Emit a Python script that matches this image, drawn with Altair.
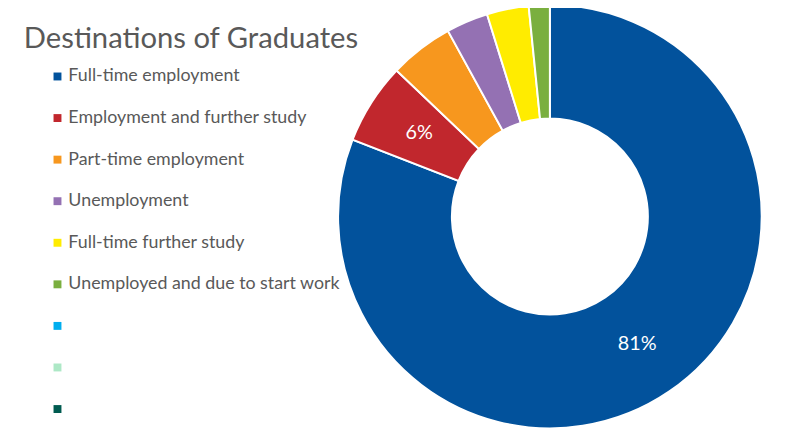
import altair as alt
import pandas as pd

categories = [
    "Full-time employment",
    "Employment and further study",
    "Part-time employment",
    "Unemployment",
    "Full-time further study",
    "Unemployed and due to start work",
]
extra_legend = [" ", "  ", "   "]
values = [81.0, 6.2, 4.9, 3.2, 3.2, 1.6]
slice_labels = ["81%", "6%", "", "", "", ""]
colors = ["#02529C", "#C1272D", "#F7971E", "#9471B3", "#FFEC00", "#7AAF3F",
          "#00AEEF", "#ADE8C6", "#005B50"]
title_text = "Destinations of Graduates"

df = pd.DataFrame({
    "category": categories,
    "value": values,
    "label": slice_labels,
    "idx": list(range(len(categories))),
})

# chart coordinates = page coordinates - 8 (page margin)
CX, CY = 547.5, 208.5

color = alt.Color(
    "category:N",
    scale=alt.Scale(domain=categories + extra_legend, range=colors),
    legend=alt.Legend(
        title=None, orient="none", legendX=41, legendY=58,
        symbolType="square", symbolSize=64, symbolStrokeWidth=0, symbolOffset=0,
        labelFont="Lato", labelFontSize=18, labelColor="#595959",
        rowPadding=24, labelOffset=2, padding=0, labelLimit=400,
    ),
)

arcs = alt.Chart(df).mark_arc(
    outerRadius=214, innerRadius=99, stroke="white", strokeWidth=2
).encode(
    theta=alt.Theta("value:Q", stack=True),
    order=alt.Order("idx:Q"),
    color=color,
    x=alt.value(CX),
    y=alt.value(CY),
)

texts = alt.Chart(df).mark_text(
    radius=156.5, font="Lato", fontSize=20, color="white"
).encode(
    theta=alt.Theta("value:Q", stack=True),
    order=alt.Order("idx:Q"),
    text="label:N",
    x=alt.value(CX),
    y=alt.value(CY),
)

title = alt.Chart(pd.DataFrame({"t": [title_text]})).mark_text(
    align="left", baseline="alphabetic", font="Lato", fontSize=29.5, color="#595959"
).encode(x=alt.value(16), y=alt.value(38), text="t:N")

chart = alt.layer(arcs, texts, title).properties(
    width=780, height=424,
    padding=0,
    autosize="none",
).configure_view(stroke=None)

chart.save("out.html", embed_options={"renderer": "svg", "actions": False})
